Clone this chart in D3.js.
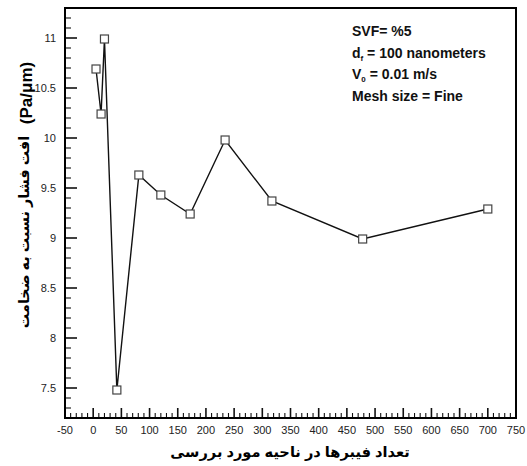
<!DOCTYPE html>
<html>
<head>
<meta charset="utf-8">
<script src="https://cdn.jsdelivr.net/npm/d3@7"></script>
<style>
  html, body { margin: 0; padding: 0; background: #fff; }
  svg { display: block; }
  text { font-family: "Liberation Sans", Arial, "DejaVu Sans", sans-serif; }
</style>
</head>
<body>
<svg id="chart" width="527" height="466"></svg>
<script>
// Number of fibres in the studied region vs. pressure drop per thickness
const fiberCounts = [5, 14, 20, 42, 81, 120, 172, 234, 317, 478, 700];
const pressureDrop = [10.69, 10.24, 10.99, 7.48, 9.63, 9.43, 9.24, 9.98, 9.37, 8.99, 9.29];

const xTicks = [-50, 0, 50, 100, 150, 200, 250, 300, 350, 400, 450, 500, 550, 600, 650, 700, 750];
const yTicks = [7.5, 8, 8.5, 9, 9.5, 10, 10.5, 11];

const xTitle = "تعداد فیبرها در ناحیه مورد بررسی";
const yTitle = "افت فشار نسبت به ضخامت";
const yUnit = "(Pa/μm)";

const svg = d3.select("#chart");
const m = { left: 65, top: 8, right: 516, bottom: 418 };

const x = d3.scaleLinear().domain([-50, 750]).range([m.left, m.right]);
const y = d3.scaleLinear().domain([7.2, 11.3]).range([m.bottom, m.top]);

// minor tick positions (every 10 fibres, every 0.1 Pa/μm)
const xMinor = d3.range(-50, 751, 10);
const yMinor = d3.range(72, 114).map(v => v / 10);
const isMajorX = d => Math.abs(d) % 50 === 0;
const isMajorY = d => Math.abs(d * 2 - Math.round(d * 2)) < 1e-6;

const tickG = svg.append("g").attr("class", "ticks");

// X ticks, drawn inward from the bottom edge
tickG.selectAll("line.xtick").data(xMinor).enter().append("line")
  .attr("class", "xtick")
  .attr("x1", d => x(d)).attr("x2", d => x(d))
  .attr("y1", m.bottom).attr("y2", d => m.bottom - (isMajorX(d) ? 10 : 5))
  .style("stroke", "#111").style("stroke-width", d => isMajorX(d) ? 1.6 : 1.1);

// Y ticks, drawn inward from the left edge
tickG.selectAll("line.ytick").data(yMinor).enter().append("line")
  .attr("class", "ytick")
  .attr("y1", d => y(d)).attr("y2", d => y(d))
  .attr("x1", m.left).attr("x2", d => m.left + (isMajorY(d) ? 12 : 6))
  .style("stroke", "#111").style("stroke-width", d => isMajorY(d) ? 1.6 : 1.1);

// Tick labels
svg.append("g").selectAll("text").data(xTicks).enter().append("text")
  .attr("x", d => x(d)).attr("y", 434)
  .attr("text-anchor", "middle").attr("font-size", 11).attr("fill", "#222")
  .text(d => d);

svg.append("g").selectAll("text").data(yTicks).enter().append("text")
  .attr("x", 56).attr("y", d => y(d) + 4)
  .attr("text-anchor", "end").attr("font-size", 11).attr("fill", "#222")
  .text(d => d);

// Frame
svg.append("rect")
  .attr("x", m.left).attr("y", m.top)
  .attr("width", m.right - m.left).attr("height", m.bottom - m.top)
  .attr("fill", "none").attr("stroke", "#000").attr("stroke-width", 2);

// Series line
const line = d3.line().x((d, i) => x(fiberCounts[i])).y(d => y(d));
svg.append("path").datum(pressureDrop)
  .attr("d", line).attr("fill", "none")
  .attr("stroke", "#111").attr("stroke-width", 1.4);

// Square markers
svg.append("g").selectAll("rect").data(pressureDrop).enter().append("rect")
  .attr("x", (d, i) => x(fiberCounts[i]) - 4)
  .attr("y", d => y(d) - 4)
  .attr("width", 8).attr("height", 8)
  .attr("fill", "#fff").attr("stroke", "#444").attr("stroke-width", 1.2);

// Simulation parameters
const ann = svg.append("g").attr("font-size", 14).attr("font-weight", "bold").attr("fill", "#111");
ann.append("text").attr("x", 352).attr("y", 36).text("SVF= %5");
const t2 = ann.append("text").attr("x", 352).attr("y", 57.5);
t2.append("tspan").text("d");
t2.append("tspan").attr("font-size", 8).attr("dy", 3).text("f");
t2.append("tspan").attr("dy", -3).text(" = 100 nanometers");
const t3 = ann.append("text").attr("x", 352).attr("y", 79);
t3.append("tspan").text("V");
t3.append("tspan").attr("font-size", 8).attr("dy", 3).text("0");
t3.append("tspan").attr("dy", -3).text(" = 0.01 m/s");
ann.append("text").attr("x", 352).attr("y", 100.5).text("Mesh size = Fine");

// Axis titles
svg.append("text")
  .attr("x", 290).attr("y", 457)
  .attr("text-anchor", "middle").attr("font-size", 14.6).attr("font-weight", "bold")
  .attr("direction", "rtl")
  .text(xTitle);

svg.append("text")
  .attr("transform", "translate(29,232) rotate(-90)")
  .attr("text-anchor", "middle").attr("font-size", 14.4).attr("font-weight", "bold")
  .attr("direction", "rtl")
  .text(yTitle);

svg.append("text")
  .attr("transform", "translate(32,93) rotate(-90)")
  .attr("text-anchor", "middle").attr("font-size", 17).attr("font-weight", "bold")
  .text(yUnit);
</script>
</body>
</html>
